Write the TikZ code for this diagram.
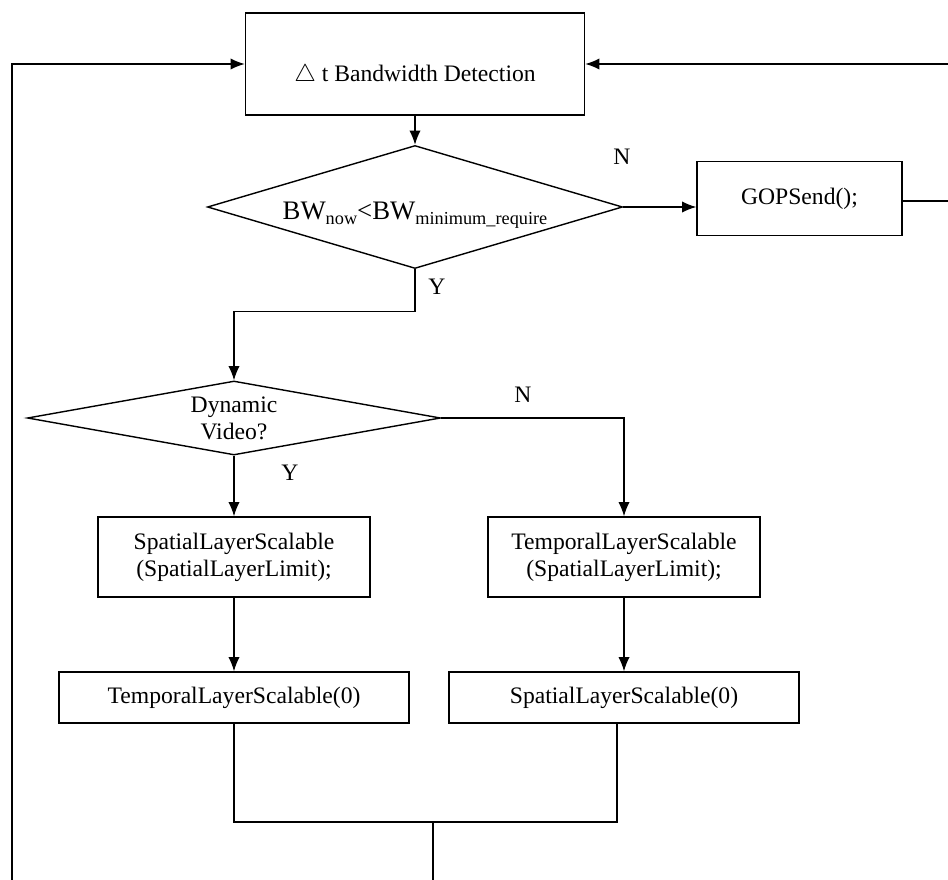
\documentclass[tikz,border=0pt]{standalone}
\usepackage{fontspec}
\setmainfont{Liberation Serif}
\usepackage{tikz}
\usetikzlibrary{
	arrows.meta,
	shapes.geometric,
	positioning,
}
\newcommand{\bwsub}[1]{\raisebox{-3.5pt}{\fontsize{13}{13}\selectfont #1}}

\begin{document}
\begin{tikzpicture}[x=0.025cm, y=-0.025cm, line width=1pt,
	every node/.style={font=\fontsize{16.8}{19}\selectfont},
	procbox/.style={draw, rectangle, align=center, inner sep=0pt},
	decision/.style={draw, diamond, align=center, inner sep=0pt},
	flow/.style={-{Latex[length=10pt, width=8pt]}}]
\useasboundingbox (0,0) rectangle (948,880);
% detection
\node[procbox, minimum width=8.475cm, minimum height=2.55cm, text height=25.6pt, text depth=0pt] (detect) at (415,64) {$\triangle$ t Bandwidth Detection};
% bandwidth check
\node[decision, aspect=3.37, minimum width=10.375cm, minimum height=3.075cm, text height=18.4pt, text depth=0pt] (bwcheck) at (415,207)
	{\fontsize{19}{19}\selectfont BW\bwsub{now}<BW\bwsub{minimum\_require}};
\node[procbox, minimum width=5.125cm, minimum height=1.85cm] (gopsend) at (799.5,198.5) {GOPSend();};
% dynamic check
\node[decision, aspect=5.58, minimum width=10.325cm, minimum height=1.85cm] (dyncheck) at (234,418) {Dynamic\\Video?};
% first stage
\node[procbox, minimum width=6.8cm, minimum height=2cm] (spatial) at (234,557) {SpatialLayerScalable\\(SpatialLayerLimit);};
\node[procbox, minimum width=6.8cm, minimum height=2cm] (temporal) at (624,557) {TemporalLayerScalable\\(SpatialLayerLimit);};
% second stage
\node[procbox, minimum width=8.75cm, minimum height=1.275cm] (temporalzero) at (234,697.5) {TemporalLayerScalable(0)};
\node[procbox, minimum width=8.75cm, minimum height=1.275cm] (spatialzero) at (624,697.5) {SpatialLayerScalable(0)};

% labels
\node (nogop) at (622,157) {N};
\node (yesbw) at (437,287) {Y};
\node (nodyn) at (523,395) {N};
\node (yesdyn) at (290,473) {Y};

% loose ends
\coordinate (merge) at (433,822);
\coordinate (mergeout) at (433,880);
\coordinate (loopin) at (12,880);
\coordinate (gopout) at (948,201);
\coordinate (backin) at (948,64);

% connectors
\draw[flow] (detect) -- (bwcheck);
\draw[flow] (bwcheck.east) -- (bwcheck.east -| gopsend.west);
\draw (gopsend.east |- gopout) -- (gopout);
\draw[flow] (backin) -- (detect.east);
\draw[flow] (loopin) |- (detect.west);
\draw[flow] (bwcheck.south) -- ++(0,42) -| (dyncheck.north);
\draw[flow] (dyncheck.east) -| (temporal.north);
\draw[flow] (dyncheck.south) -- (spatial.north);
\draw[flow] (spatial) -- (temporalzero);
\draw[flow] (temporal) -- (spatialzero);
\draw (temporalzero.south) |- (merge) -| ([xshift=-5]spatialzero.south);
\draw (merge) -- (mergeout);
\end{tikzpicture}
\end{document}
